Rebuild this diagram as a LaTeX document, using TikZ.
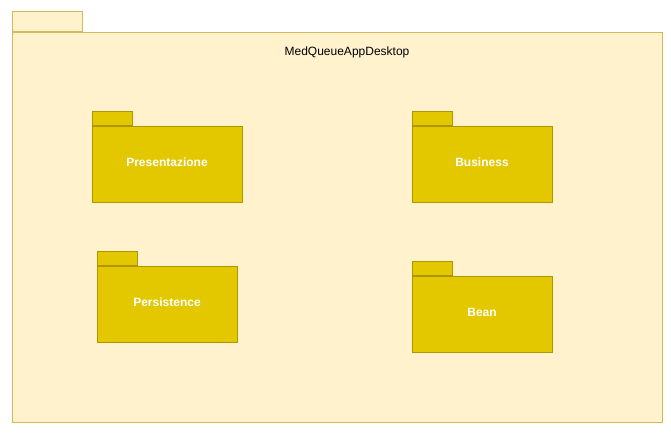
\documentclass[tikz,border=0pt]{standalone}
\usepackage{fontspec}
\setmainfont{Liberation Sans}
\definecolor{outerfill}{HTML}{FFF2CC}
\definecolor{outerdraw}{HTML}{D6B656}
\definecolor{pkgfill}{HTML}{E3C800}
\definecolor{pkgdraw}{HTML}{B09500}
\begin{document}
\begin{tikzpicture}[x=1pt,y=-1pt,
  outerbody/.style={draw=outerdraw,fill=outerfill,line width=1pt,inner sep=0pt,anchor=north west,minimum width=650pt,minimum height=390pt},
  outertab/.style={draw=outerdraw,fill=outerfill,line width=1pt,inner sep=0pt,anchor=south west,minimum width=70pt,minimum height=20pt},
  pkgbody/.style={draw=pkgdraw,fill=pkgfill,line width=1pt,inner sep=0pt,minimum height=76pt},
  pkglabel/.style={text=white,font=\bfseries\fontsize{12}{14}\selectfont},
  pkgtab/.style={draw=pkgdraw,fill=pkgfill,line width=1pt,inner sep=0pt,anchor=south west,minimum width=40pt,minimum height=14pt},
  title/.style={font=\fontsize{12}{14}\selectfont,text=black}]
\useasboundingbox (0,0) rectangle (671,432);
% outer package
\node[outertab] (otab) at (12,32) {};
\node[outerbody] (outer) at (12,32) {};
\node[title] (otitle) at (347,52) {MedQueueAppDesktop};
% inner packages
\node[pkgbody,minimum width=150pt] (pres) at (167,164) {};
\node[pkgtab] (prestab) at (pres.north west) {};
\node[pkglabel] (preslbl) at ([yshift=1.5pt]pres.center) {Presentazione};
\node[pkgbody,minimum width=140pt] (bus) at (482,164) {};
\node[pkgtab] (bustab) at (bus.north west) {};
\node[pkglabel] (buslbl) at ([yshift=1.5pt]bus.center) {Business};
\node[pkgbody,minimum width=140pt] (pers) at (167,304) {};
\node[pkgtab] (perstab) at (pers.north west) {};
\node[pkglabel] (perslbl) at ([yshift=1.5pt]pers.center) {Persistence};
\node[pkgbody,minimum width=140pt] (bean) at (482,314) {};
\node[pkgtab] (beantab) at (bean.north west) {};
\node[pkglabel] (beanlbl) at ([yshift=1.5pt]bean.center) {Bean};
\end{tikzpicture}
\end{document}
